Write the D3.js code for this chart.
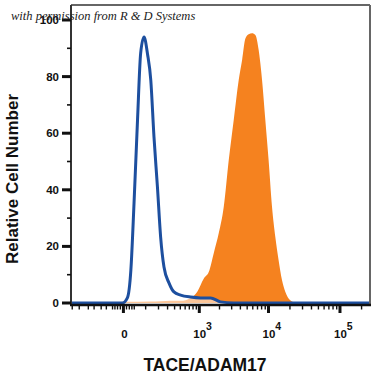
<!DOCTYPE html>
<html>
<head>
<meta charset="utf-8">
<script src="https://cdn.jsdelivr.net/npm/d3@7"></script>
<style>
  html, body { margin: 0; padding: 0; background: #fff; }
  svg { display: block; }
</style>
</head>
<body>
<svg id="chart" width="375" height="375"></svg>
<script>
// ---- data ----
const blueX = [-420, -26, -3, 13, 26, 39, 55, 71, 90, 112, 135, 160, 190, 221, 257, 318, 390, 506, 732, 1045, 1475, 2067, 3180, 262144];
const blueY = [0, 0, 0, 1.8, 11.7, 35.3, 64.7, 88.3, 94, 88, 78.8, 58.7, 41, 23.3, 12.7, 7.1, 3.9, 2.8, 2.1, 1.8, 1.8, 0.4, 0, 0];

const orangeX = [-420, -100, -34, 8, 135, 221, 341, 506, 732, 931, 1172, 1392, 1650, 1952, 2307, 2724, 3213, 3787, 4234, 4714, 5251, 5862, 6528, 7267, 8112, 9024, 10032, 11203, 12461, 13853, 15466, 17203, 20189, 25027, 262144];
const orangeY = [0, 0, 0.2, 0.4, 0.5, 0.6, 0.8, 0.8, 1.7, 4, 8.7, 11, 17.7, 24.7, 34, 50.5, 64.7, 78.8, 85.9, 93.5, 95, 95.3, 94.7, 89.4, 78.8, 64.7, 50.5, 34, 23.4, 15.2, 8.1, 4, 1, 0, 0];

const xMajorTicks = [0, 1e3, 1e4, 1e5];
const xMajorLabels = [["0", ""], ["10", "3"], ["10", "4"], ["10", "5"]];
const xMinorTicks = [-400, -300, -200, -150, -100, -70, -40, -30, -20, -10, 10, 20, 30, 40,
  100, 200, 300, 400, 500, 600, 700, 800, 900,
  2000, 3000, 4000, 5000, 6000, 7000, 8000, 9000,
  20000, 30000, 40000, 50000, 60000, 70000, 80000, 90000, 200000];
const yMajorTicks = [0, 20, 40, 60, 80, 100];
const yMinorTicks = [10, 30, 50, 70, 90];

const xTitle = "TACE/ADAM17";
const yTitle = "Relative Cell Number";
const credit = "with permission from R & D Systems";

(function () {
// ---- layout ----
const svg = d3.select("#chart");
const L = 71, R = 370, T = 5, B = 305;

const x = d3.scaleSymlog().constant(96).domain([-420, 262144]).range([L, R]);
const y = d3.scaleLinear().domain([0, 100]).range([303, 20]);

const blue = blueX.map((v, i) => ({x: v, y: blueY[i]}));
const orange = orangeX.map((v, i) => ({x: v, y: orangeY[i]}));

const area = d3.area().x(d => x(d.x)).y0(y(0)).y1(d => y(d.y)).curve(d3.curveMonotoneX);
const line = d3.line().x(d => x(d.x)).y(d => y(d.y)).curve(d3.curveMonotoneX);

// orange filled histogram
svg.append("path").datum(orange).attr("d", area).attr("fill", "#f5821f");
// blue control: translucent white fill + blue line
svg.append("path").datum(blue).attr("d", area).attr("fill", "#fff").attr("opacity", 0.55);
svg.append("path").datum(blue).attr("d", line).attr("fill", "none")
  .attr("stroke", "#1d4f9f").attr("stroke-width", 3).attr("stroke-linejoin", "round");

// frame
svg.append("line").attr("x1", L).attr("x2", R).attr("y1", T).attr("y2", T)
  .attr("stroke", "#666").attr("stroke-width", 2);
svg.append("line").attr("x1", R).attr("x2", R).attr("y1", T).attr("y2", B)
  .attr("stroke", "#666").attr("stroke-width", 2);
svg.append("line").attr("x1", L).attr("x2", L).attr("y1", T).attr("y2", B)
  .attr("stroke", "#333").attr("stroke-width", 2);
svg.append("line").attr("x1", L - 1).attr("x2", R + 1).attr("y1", B).attr("y2", B)
  .attr("stroke", "#111").attr("stroke-width", 2.4);

// x ticks
svg.selectAll(".xmin").data(xMinorTicks).enter().append("line")
  .attr("x1", d => x(d)).attr("x2", d => x(d)).attr("y1", B).attr("y2", B + 4.5)
  .attr("stroke", "#111").attr("stroke-width", 1.4);
svg.selectAll(".xmaj").data(xMajorTicks).enter().append("line")
  .attr("x1", d => x(d)).attr("x2", d => x(d)).attr("y1", B).attr("y2", B + 8)
  .attr("stroke", "#111").attr("stroke-width", 3);

const font = "'Liberation Sans', Arial, sans-serif";
const xl = svg.selectAll(".xlab").data(xMajorTicks).enter().append("text")
  .attr("x", d => x(d) + 1).attr("y", 338)
  .attr("font-family", font).attr("font-weight", "bold").attr("font-size", 11.5)
  .attr("fill", "#111");
xl.each(function(d, i) {
  const t = d3.select(this);
  const lab = xMajorLabels[i];
  if (lab[1] === "") {
    t.attr("text-anchor", "middle").text(lab[0]);
  } else {
    t.attr("text-anchor", "start").attr("x", x(d) - 6);
    t.append("tspan").text(lab[0]);
    t.append("tspan").attr("dy", -8).attr("font-size", 10.5).text(lab[1]);
  }
});

// y ticks
svg.selectAll(".ymin").data(yMinorTicks).enter().append("line")
  .attr("x1", L - 4).attr("x2", L).attr("y1", d => y(d)).attr("y2", d => y(d))
  .attr("stroke", "#111").attr("stroke-width", 1.6);
svg.selectAll(".ymaj").data(yMajorTicks).enter().append("line")
  .attr("x1", L - 9).attr("x2", L).attr("y1", d => y(d)).attr("y2", d => y(d))
  .attr("stroke", "#111").attr("stroke-width", 3);
svg.selectAll(".ylab").data(yMajorTicks).enter().append("text")
  .attr("x", 59).attr("y", d => y(d)).attr("dy", "0.35em")
  .attr("text-anchor", "end").attr("font-family", font).attr("font-weight", "bold")
  .attr("font-size", 11.5).attr("fill", "#111").text(d => d);

// titles
svg.append("text").attr("x", 205).attr("y", 371).attr("text-anchor", "middle")
  .attr("font-family", font).attr("font-weight", "bold").attr("font-size", 17.5)
  .attr("fill", "#111").text(xTitle);
svg.append("text").attr("transform", "translate(18,179) rotate(-90)").attr("text-anchor", "middle")
  .attr("font-family", font).attr("font-weight", "bold").attr("font-size", 17)
  .attr("fill", "#111").text(yTitle);

// credit watermark
svg.append("text").attr("x", 11).attr("y", 20)
  .attr("font-family", "'Liberation Serif', 'DejaVu Serif', serif").attr("font-style", "italic")
  .attr("font-size", 12.5).attr("fill", "#222").text(credit);
})();
</script>
</body>
</html>
